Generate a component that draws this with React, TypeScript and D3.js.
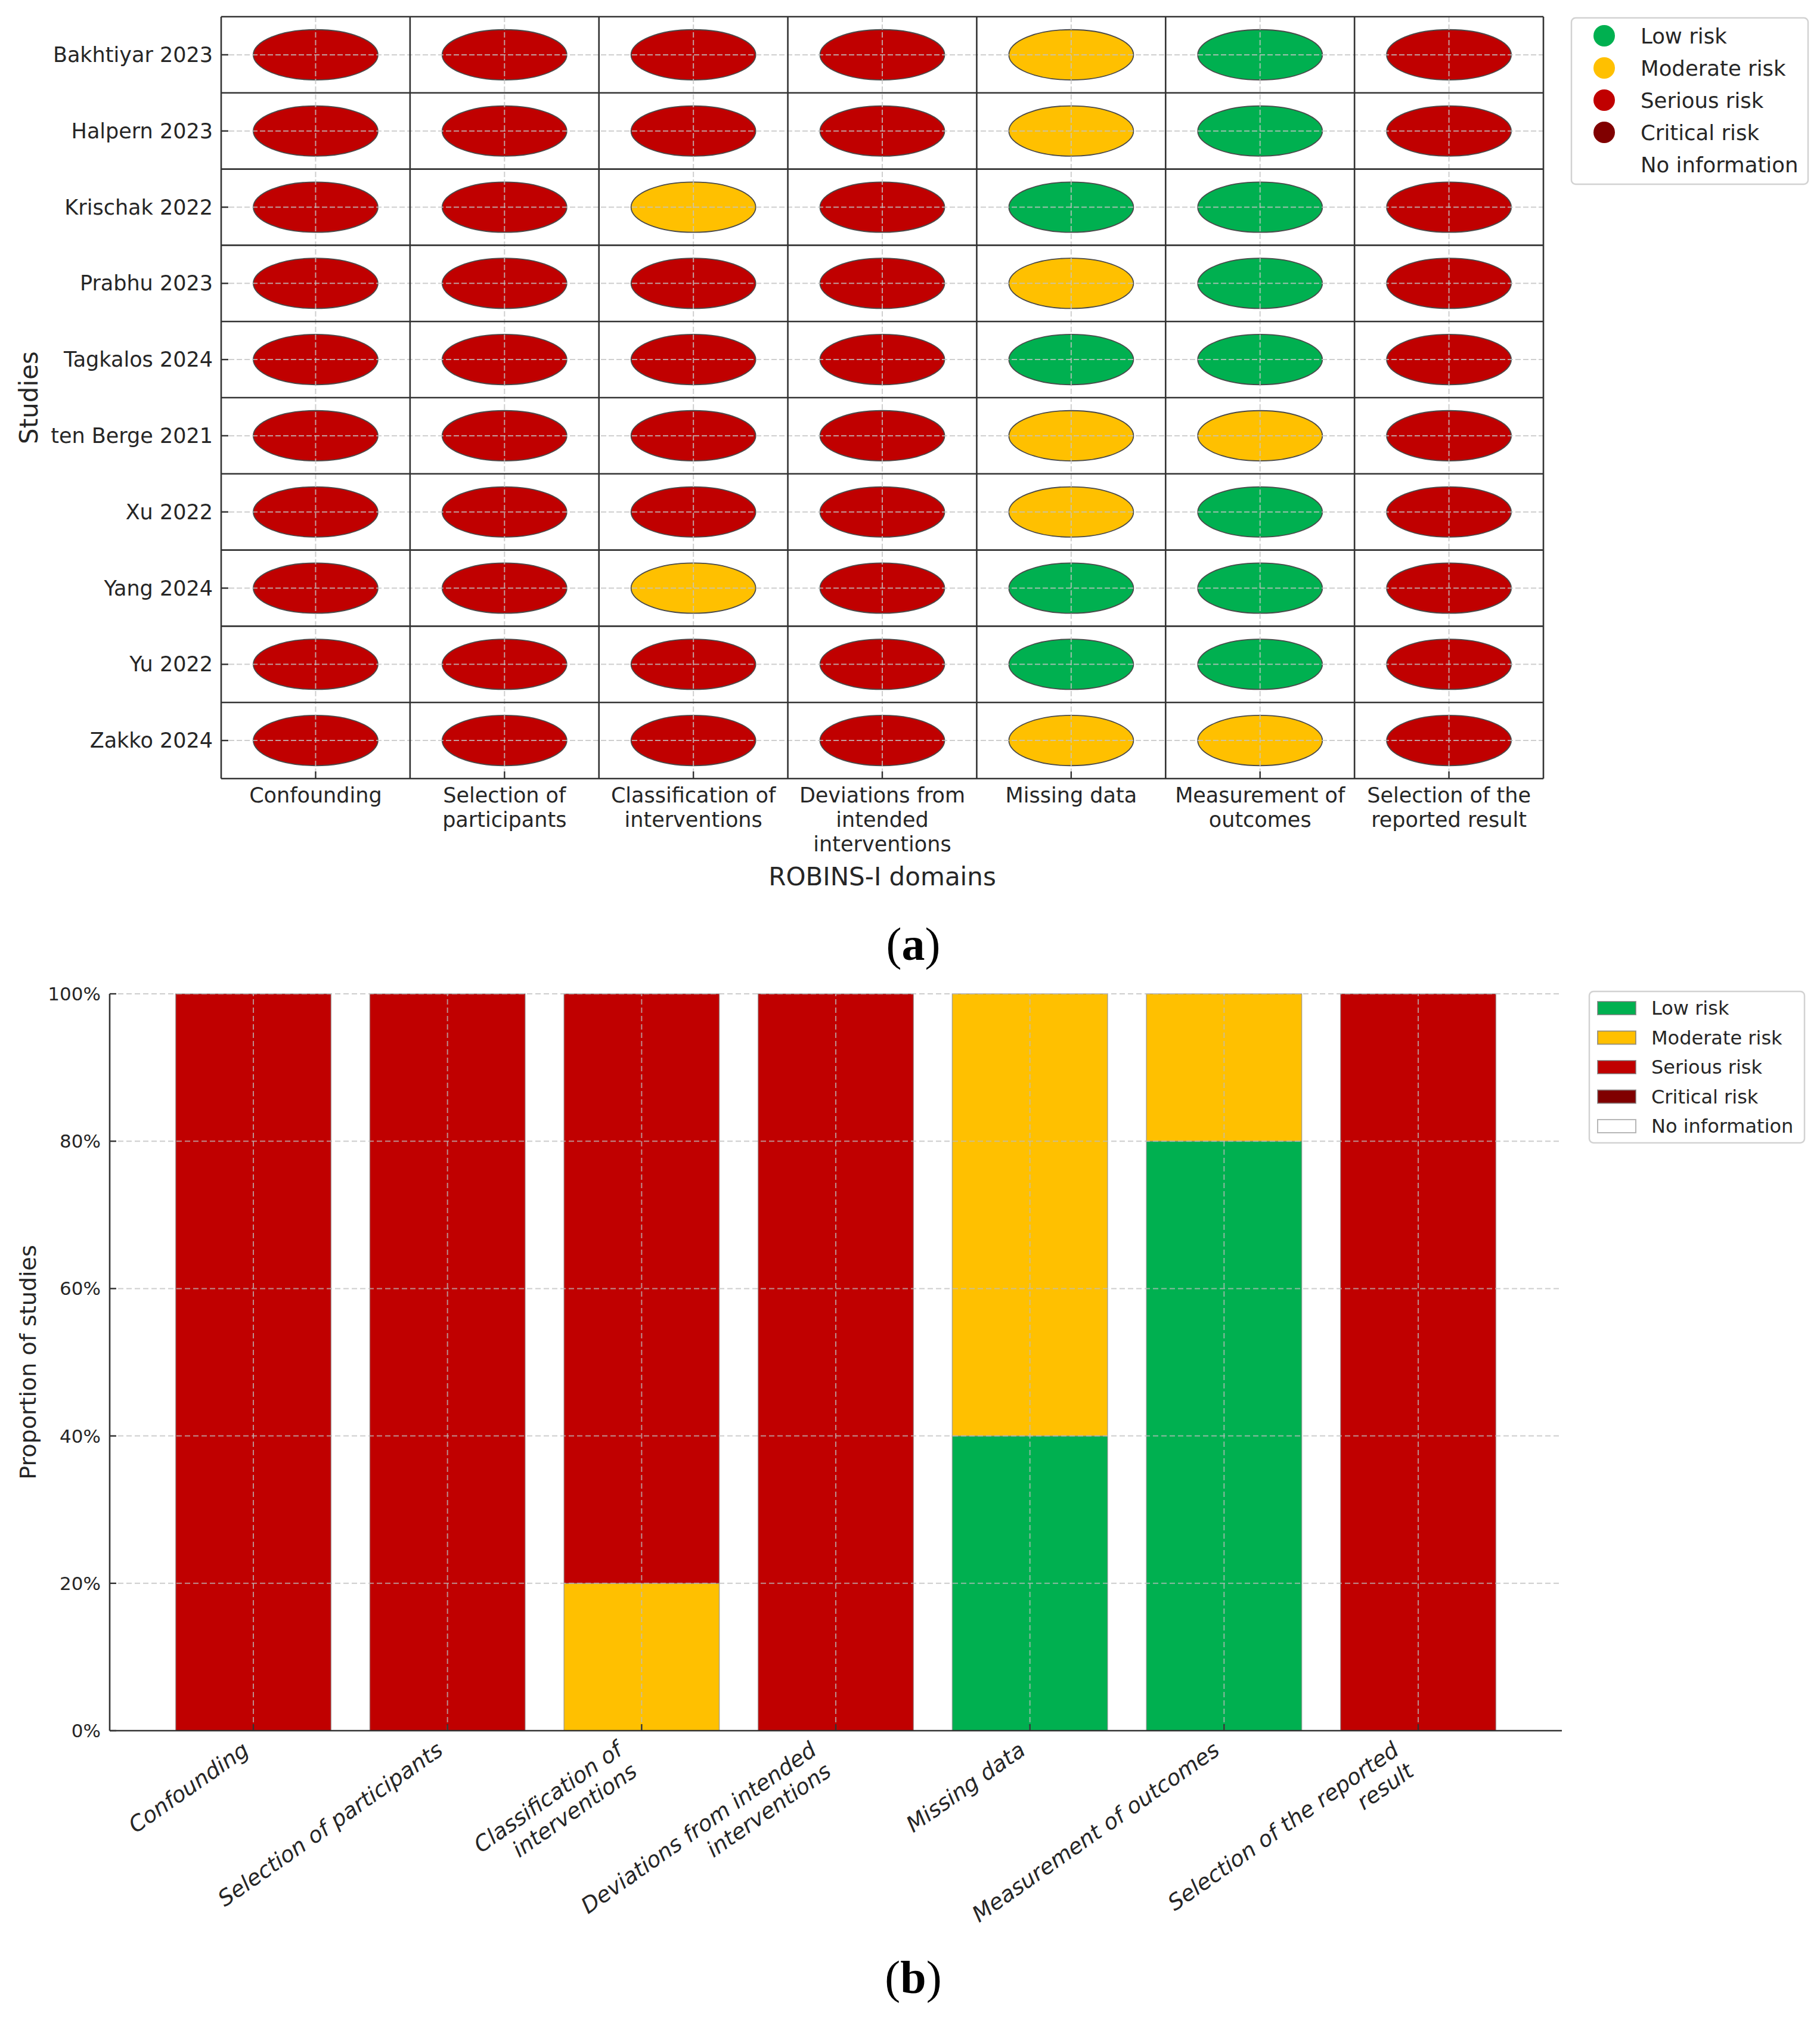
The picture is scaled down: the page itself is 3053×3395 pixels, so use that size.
import * as d3 from "d3";
import React from "react";

// ROBINS-I risk of bias: traffic light (a) + summary bars (b)

const studies = [
  "Bakhtiyar 2023",
  "Halpern 2023",
  "Krischak 2022",
  "Prabhu 2023",
  "Tagkalos 2024",
  "ten Berge 2021",
  "Xu 2022",
  "Yang 2024",
  "Yu 2022",
  "Zakko 2024",
];

const domainLabelsTop = [
  ["Confounding"],
  ["Selection of", "participants"],
  ["Classification of", "interventions"],
  ["Deviations from", "intended", "interventions"],
  ["Missing data"],
  ["Measurement of", "outcomes"],
  ["Selection of the", "reported result"],
];

const domainLabelsBottom = [
  ["Confounding"],
  ["Selection of participants"],
  ["Classification of", "interventions"],
  ["Deviations from intended", "interventions"],
  ["Missing data"],
  ["Measurement of outcomes"],
  ["Selection of the reported", "result"],
];

const riskLevels = ["Low risk", "Moderate risk", "Serious risk", "Critical risk", "No information"];
const riskKeys = ["L", "M", "S", "C", "N"];
const riskColors = ["#00B050", "#FFC000", "#C00000", "#800000", "#FFFFFF"];

// one row per study, one code per domain
const judgements = [
  ["S", "S", "S", "S", "M", "L", "S"],
  ["S", "S", "S", "S", "M", "L", "S"],
  ["S", "S", "M", "S", "L", "L", "S"],
  ["S", "S", "S", "S", "M", "L", "S"],
  ["S", "S", "S", "S", "L", "L", "S"],
  ["S", "S", "S", "S", "M", "M", "S"],
  ["S", "S", "S", "S", "M", "L", "S"],
  ["S", "S", "M", "S", "L", "L", "S"],
  ["S", "S", "S", "S", "L", "L", "S"],
  ["S", "S", "S", "S", "M", "M", "S"],
];

// proportions per domain for panel (b)
const lowShare = [0, 0, 0, 0, 0.4, 0.8, 0];
const moderateShare = [0, 0, 0.2, 0, 0.6, 0.2, 0];
const seriousShare = [1, 1, 0.8, 1, 0, 0, 1];
const criticalShare = [0, 0, 0, 0, 0, 0, 0];
const noInfoShare = [0, 0, 0, 0, 0, 0, 0];

const yTicksB = [0, 0.2, 0.4, 0.6, 0.8, 1];

const FONT = "DejaVu Sans";
const TXT = "#262626";
const colorOf = d3.scaleOrdinal<string, string>().domain(riskKeys).range(riskColors);

function TopPanel() {
  const x = d3.scaleLinear().domain([-0.5, 6.5]).range([371, 2589]);
  const y = d3.scaleLinear().domain([-0.5, 9.5]).range([28, 1306]);
  const r = 0.33;
  const cols = d3.range(domainLabelsTop.length);
  const rows = d3.range(studies.length);
  const fs = 35;

  return (
    <g>
      {/* cells */}
      {rows.map((ri) =>
        cols.map((ci) => (
          <ellipse
            key={`e${ri}-${ci}`}
            cx={x(ci)}
            cy={y(ri)}
            rx={x(r) - x(0)}
            ry={y(r) - y(0)}
            fill={colorOf(judgements[ri][ci])}
            stroke="#4a4a4a"
            strokeWidth={1.8}
          />
        ))
      )}
      {/* dashed grid through centres */}
      {cols.map((ci) => (
        <line key={`gx${ci}`} x1={x(ci)} x2={x(ci)} y1={y(-0.5)} y2={y(9.5)}
          stroke="#c4c4c4" strokeWidth={2} strokeDasharray="9,4" opacity={0.8} />
      ))}
      {rows.map((ri) => (
        <line key={`gy${ri}`} y1={y(ri)} y2={y(ri)} x1={x(-0.5)} x2={x(6.5)}
          stroke="#c4c4c4" strokeWidth={2} strokeDasharray="9,4" opacity={0.8} />
      ))}
      {/* solid cell borders */}
      {d3.range(domainLabelsTop.length + 1).map((i) => (
        <line key={`bx${i}`} x1={x(i - 0.5)} x2={x(i - 0.5)} y1={y(-0.5)} y2={y(9.5)}
          stroke="#333" strokeWidth={2.6} />
      ))}
      {d3.range(studies.length + 1).map((i) => (
        <line key={`by${i}`} y1={y(i - 0.5)} y2={y(i - 0.5)} x1={x(-0.5)} x2={x(6.5)}
          stroke="#333" strokeWidth={2.6} />
      ))}
      {/* ticks (inward) */}
      {rows.map((ri) => (
        <line key={`ty${ri}`} x1={x(-0.5)} x2={x(-0.5) + 12} y1={y(ri)} y2={y(ri)} stroke="#333" strokeWidth={2.4} />
      ))}
      {cols.map((ci) => (
        <line key={`tx${ci}`} x1={x(ci)} x2={x(ci)} y1={y(9.5)} y2={y(9.5) - 12} stroke="#333" strokeWidth={2.4} />
      ))}
      {/* y labels */}
      {studies.map((s, ri) => (
        <text key={s} x={x(-0.5) - 14} y={y(ri) + 12} textAnchor="end" fontSize={fs} fontFamily={FONT} fill={TXT}>
          {s}
        </text>
      ))}
      {/* x labels */}
      {domainLabelsTop.map((lines, ci) => (
        <text key={`xl${ci}`} textAnchor="middle" fontSize={fs} fontFamily={FONT} fill={TXT}>
          {lines.map((ln, li) => (
            <tspan key={li} x={x(ci)} y={1346 + li * 41}>{ln}</tspan>
          ))}
        </text>
      ))}
      <text x={(x(-0.5) + x(6.5)) / 2} y={1485} textAnchor="middle" fontSize={42} fontFamily={FONT} fill={TXT}>
        ROBINS-I domains
      </text>
      <text transform={`translate(63,${(y(-0.5) + y(9.5)) / 2}) rotate(-90)`} textAnchor="middle"
        fontSize={42} fontFamily={FONT} fill={TXT}>
        Studies
      </text>
      {/* legend */}
      <rect x={2636} y={30} width={397} height={279} rx={7} fill="#fff" stroke="#d2d2d2" strokeWidth={2.5} />
      {riskLevels.map((lv, i) => (
        <g key={lv}>
          {i < 4 && <circle cx={2691} cy={60 + i * 54} r={18} fill={riskColors[i]} />}
          <text x={2752} y={60 + i * 54 + 13} fontSize={35.5} fontFamily={FONT} fill={TXT}>{lv}</text>
        </g>
      ))}
    </g>
  );
}

function BottomPanel() {
  const x = d3.scaleLinear().domain([-0.74, 6.74]).range([184, 2620]);
  const y = d3.scaleLinear().domain([0, 1]).range([2903, 1667]);
  const barW = x(0.8) - x(0);
  const table = domainLabelsBottom.map((_, i) => ({
    i,
    L: lowShare[i],
    M: moderateShare[i],
    S: seriousShare[i],
    C: criticalShare[i],
    N: noInfoShare[i],
  }));
  const series = d3.stack<any>().keys(riskKeys)(table);
  const fmt = d3.format(".0%");
  const cols = d3.range(domainLabelsBottom.length);
  const angle = 35;
  const sin = Math.sin((angle * Math.PI) / 180);
  const fsX = 37;
  const lh = 1.17 * fsX;

  return (
    <g>
      {series.map((s) =>
        s.map((d, i) =>
          d[1] - d[0] > 0 ? (
            <rect
              key={`${s.key}${i}`}
              x={x(i) - barW / 2}
              width={barW}
              y={y(d[1])}
              height={y(d[0]) - y(d[1])}
              fill={colorOf(s.key)}
              stroke="#8a8a8a"
              strokeWidth={1.5}
              strokeOpacity={0.7}
            />
          ) : null
        )
      )}
      {/* grid on top */}
      {yTicksB.map((t) => (
        <line key={`gy${t}`} x1={x(-0.74)} x2={x(6.74)} y1={y(t)} y2={y(t)}
          stroke="#bdbdbd" strokeWidth={2} strokeDasharray="9,5" opacity={0.75} />
      ))}
      {cols.map((ci) => (
        <line key={`gx${ci}`} x1={x(ci)} x2={x(ci)} y1={y(0)} y2={y(1)}
          stroke="#bdbdbd" strokeWidth={2} strokeDasharray="9,5" opacity={0.75} />
      ))}
      {/* spines */}
      <line x1={x(-0.74)} x2={x(-0.74)} y1={y(0)} y2={y(1)} stroke="#333" strokeWidth={2.6} />
      <line x1={x(-0.74)} x2={x(6.74)} y1={y(0)} y2={y(0)} stroke="#333" strokeWidth={2.6} />
      {yTicksB.map((t) => (
        <g key={`ty${t}`}>
          <line x1={x(-0.74)} x2={x(-0.74) + 11} y1={y(t)} y2={y(t)} stroke="#333" strokeWidth={2.4} />
          <text x={169} y={y(t) + 11} textAnchor="end" fontSize={31} fontFamily={FONT} fill={TXT}>{fmt(t)}</text>
        </g>
      ))}
      {cols.map((ci) => (
        <line key={`tx${ci}`} x1={x(ci)} x2={x(ci)} y1={y(0)} y2={y(0) - 11} stroke="#333" strokeWidth={2.4} />
      ))}
      {/* rotated labels, right aligned */}
      {domainLabelsBottom.map((lines, ci) => {
        const H = lines.length * lh;
        const ox = x(ci) - H * sin;
        const oy = y(0) + 10;
        return (
          <text key={`xl${ci}`} transform={`translate(${ox},${oy}) rotate(${-angle})`} textAnchor="end"
            fontSize={fsX} fontStyle="italic" fontFamily={FONT} fill={TXT}>
            {lines.map((ln, li) => (
              <tspan key={li} x={0} y={0.93 * fsX + li * lh}>{ln}</tspan>
            ))}
          </text>
        );
      })}
      <text transform={`translate(60,${(y(0) + y(1)) / 2}) rotate(-90)`} textAnchor="middle"
        fontSize={38} fontFamily={FONT} fill={TXT}>
        Proportion of studies
      </text>
      {/* legend */}
      <rect x={2666} y={1663} width={361} height={254} rx={7} fill="#fff" stroke="#d2d2d2" strokeWidth={2.5} />
      {riskLevels.map((lv, i) => (
        <g key={lv}>
          <rect x={2680} y={1691 + i * 49.5 - 11} width={64} height={22} fill={riskColors[i]}
            stroke={i === 4 ? "#999" : "#777"} strokeWidth={2} strokeOpacity={0.7} />
          <text x={2770} y={1691 + i * 49.5 + 11} fontSize={32} fontFamily={FONT} fill={TXT}>{lv}</text>
        </g>
      ))}
    </g>
  );
}

function PanelTag({ letter, cy }: { letter: string; cy: number }) {
  return (
    <text x={1532} y={cy} textAnchor="middle" fontSize={78} fontFamily="Liberation Serif" fill="#000">
      (<tspan fontWeight="bold">{letter}</tspan>)
    </text>
  );
}

export default function App() {
  return (
    <svg
      width={3053}
      height={3395}
      viewBox="0 0 3053 3395"
      style={{ position: "absolute", left: 0, top: 0, background: "#fff" }}
    >
      <rect width={3053} height={3395} fill="#fff" />
      <TopPanel />
      <BottomPanel />
      <PanelTag letter="a" cy={1610} />
      <PanelTag letter="b" cy={3343} />
    </svg>
  );
}
